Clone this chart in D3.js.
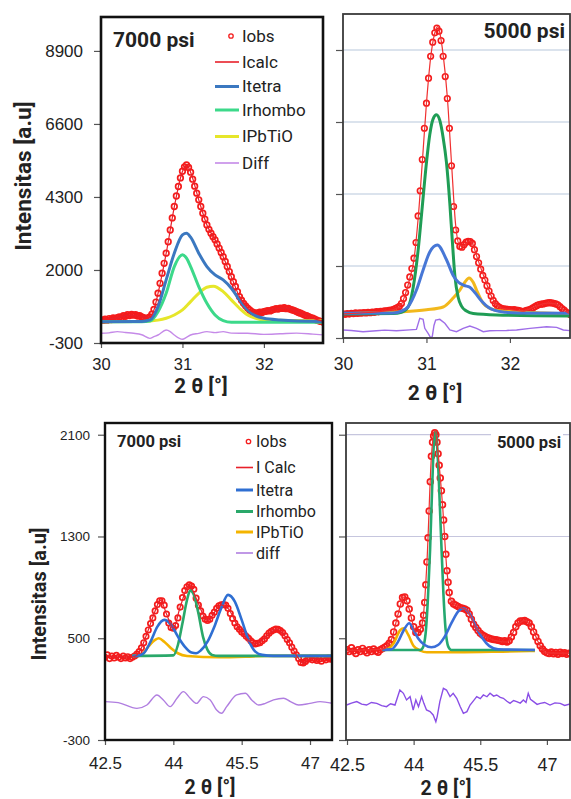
<!DOCTYPE html>
<html>
<head>
<meta charset="utf-8">
<script src="https://cdn.jsdelivr.net/npm/d3@7"></script>
<style>
  body { margin: 0; background: #fff; }
  svg { display: block; font-family: Roboto, "Open Sans", sans-serif; }
</style>
</head>
<body>
<svg id="chart"></svg>
<script>
// scan angles (2 theta)
const twoThetaTop = [
  30,30.025,30.05,30.075,30.1,30.125,30.15,30.175,30.2,30.225,
  30.25,30.275,30.3,30.325,30.35,30.375,30.4,30.425,30.45,30.475,
  30.5,30.525,30.55,30.575,30.6,30.625,30.65,30.675,30.7,30.725,
  30.75,30.775,30.8,30.825,30.85,30.875,30.9,30.925,30.95,30.975,
  31,31.025,31.05,31.075,31.1,31.125,31.15,31.175,31.2,31.225,
  31.25,31.275,31.3,31.325,31.35,31.375,31.4,31.425,31.45,31.475,
  31.5,31.525,31.55,31.575,31.6,31.625,31.65,31.675,31.7,31.725,
  31.75,31.775,31.8,31.825,31.85,31.875,31.9,31.925,31.95,31.975,
  32,32.025,32.05,32.075,32.1,32.125,32.15,32.175,32.2,32.225,
  32.25,32.275,32.3,32.325,32.35,32.375,32.4,32.425,32.45,32.475,
  32.5,32.525,32.55,32.575,32.6,32.625,32.65,32.675,32.7,32.725,
  32.75]
const twoThetaBottom = [
  42.5,42.55,42.6,42.65,42.7,42.75,42.8,42.85,42.9,42.95,
  43,43.05,43.1,43.15,43.2,43.25,43.3,43.35,43.4,43.45,
  43.5,43.55,43.6,43.65,43.7,43.75,43.8,43.85,43.9,43.95,
  44,44.05,44.1,44.15,44.2,44.25,44.3,44.35,44.4,44.45,
  44.5,44.55,44.6,44.65,44.7,44.75,44.8,44.85,44.9,44.95,
  45,45.05,45.1,45.15,45.2,45.25,45.3,45.35,45.4,45.45,
  45.5,45.55,45.6,45.65,45.7,45.75,45.8,45.85,45.9,45.95,
  46,46.05,46.1,46.15,46.2,46.25,46.3,46.35,46.4,46.45,
  46.5,46.55,46.6,46.65,46.7,46.75,46.8,46.85,46.9,46.95,
  47,47.05,47.1,47.15,47.2,47.25,47.3,47.35,47.4,47.45,
  47.5]
// finer steps across the sharp 5000 psi peak
const twoThetaBottomFine = [
  42.5,42.55,42.6,42.65,42.7,42.75,42.8,42.85,42.9,42.95,
  43,43.05,43.1,43.15,43.2,43.25,43.3,43.35,43.4,43.45,
  43.5,43.55,43.6,43.65,43.7,43.75,43.8,43.85,43.9,43.95,
  44,44.05,44.1,44.15,
  44.2,44.225,44.25,44.275,44.3,44.325,44.35,44.375,44.4,44.425,
  44.45,44.475,44.5,44.525,44.55,44.575,44.6,44.625,44.65,44.675,
  44.7,44.725,44.75,44.775,44.8,
  44.85,44.9,44.95,
  45,45.05,45.1,45.15,45.2,45.25,45.3,45.35,45.4,45.45,
  45.5,45.55,45.6,45.65,45.7,45.75,45.8,45.85,45.9,45.95,
  46,46.05,46.1,46.15,46.2,46.25,46.3,46.35,46.4,46.45,
  46.5,46.55,46.6,46.65,46.7,46.75,46.8,46.85,46.9,46.95,
  47,47.05,47.1,47.15,47.2,47.25,47.3,47.35,47.4,47.45,
  47.5]

// ---- top left: 7000 psi, 2theta 30-32.75
const tlObs = [
  430,410,455,420,470,440,490,460,500,520,
  495,560,540,590,565,600,575,590,550,560,
  520,500,470,490,520,610,760,990,1270,1580,
  1900,2210,2530,2890,3260,3640,4000,4330,4630,4900,
  5110,5250,5310,5230,5080,4860,4640,4420,4210,4000,
  3790,3600,3420,3280,3160,3050,2950,2820,2690,2550,
  2420,2270,2110,1950,1790,1630,1480,1320,1160,1050,
  950,870,800,740,690,660,640,650,670,660,
  690,700,720,710,740,760,780,770,800,790,
  810,780,790,760,740,720,690,660,640,610,
  580,560,530,500,480,450,420,400,380,360,
  370]
const tlCalc = [[30,440],[30.2,490],[30.35,575],[30.5,530],[30.6,510],[30.65,740],[30.7,1260],[30.8,2520],[30.9,3990],[31,5100],[31.05,5300],[31.1,5080],[31.2,4210],[31.3,3420],[31.4,2950],[31.5,2420],[31.6,1790],[31.7,1160],[31.8,800],[31.9,645],[32,690],[32.2,795],[32.3,790],[32.4,690],[32.5,580],[32.6,480],[32.75,370]]
const tlTetra = [[30,373],[30.5,380],[30.6,426],[30.7,846],[30.8,1687],[30.9,2529],[31,3107],[31.05,3159],[31.1,3033],[31.2,2529],[31.3,2108],[31.4,1845],[31.5,1687],[31.6,1424],[31.7,1057],[31.8,741],[31.9,552],[32,478],[32.2,426],[32.75,373]]
const tlRhombo = [[30,373],[30.5,373],[30.6,394],[30.7,688],[30.8,1267],[30.9,2108],[31,2476],[31.05,2371],[31.1,2108],[31.2,1477],[31.3,951],[31.4,583],[31.5,404],[31.6,352],[32.75,352]]
const tlPbTiO = [[30,373],[30.5,380],[30.7,420],[30.8,478],[30.9,583],[31,741],[31.1,1004],[31.2,1267],[31.3,1456],[31.38,1490],[31.5,1319],[31.6,1057],[31.7,794],[31.8,583],[31.9,478],[32,426],[32.75,404]]
const tlDiff = [[30,5],[30.1,20],[30.2,57],[30.3,30],[30.4,5],[30.5,-40],[30.6,-153],[30.65,-100],[30.7,-48],[30.8,110],[30.85,60],[30.9,-48],[31,-184],[31.05,-120],[31.1,-48],[31.2,5],[31.3,57],[31.4,26],[31.5,57],[31.6,10],[31.8,5],[32,-27],[32.2,-10],[32.4,10],[32.6,-20],[32.75,-48]]

// ---- top right: 5000 psi, 2theta 30-32.75
const trObs = [
  470,455,480,465,490,475,500,485,505,495,
  515,500,520,510,530,520,540,535,555,550,
  570,565,585,590,610,640,670,710,800,960,
  1150,1390,1650,1920,2250,2750,3600,4400,5400,6400,
  7200,8000,8700,9150,9450,9600,9500,9200,8700,8050,
  7350,6400,5200,3900,3150,2800,2620,2600,2680,2760,
  2790,2780,2720,2520,2300,2100,1900,1700,1550,1370,
  1200,1040,900,800,730,680,650,630,620,615,
  610,600,610,590,580,570,545,560,580,600,
  620,660,700,740,770,780,790,810,820,830,
  820,810,790,760,700,640,590,530,480,440,
  430]
const trCalc = [[30,470],[30.3,515],[30.6,605],[30.7,780],[30.75,1120],[30.8,1600],[30.85,2200],[30.9,3500],[30.95,5300],[31,7200],[31.05,8650],[31.1,9450],[31.13,9650],[31.16,9450],[31.2,8750],[31.25,7400],[31.3,5300],[31.35,3300],[31.4,2650],[31.45,2640],[31.51,2800],[31.55,2730],[31.6,2330],[31.7,1580],[31.8,920],[31.9,660],[32,615],[32.15,560],[32.3,700],[32.45,815],[32.55,790],[32.65,590],[32.75,430]]
const trTetra = [[30,488],[30.6,500],[30.7,560],[30.78,700],[30.88,1233],[30.96,1873],[31.04,2450],[31.13,2671],[31.24,2200],[31.32,1700],[31.38,1489],[31.45,1380],[31.52,1320],[31.58,1150],[31.66,880],[31.74,680],[31.82,580],[31.95,520],[32.1,500],[32.75,490]]
const trRhombo = [[30,470],[30.6,480],[30.7,520],[30.78,690],[30.84,1300],[30.9,2500],[30.95,3900],[31,5300],[31.04,6200],[31.08,6700],[31.12,6830],[31.16,6650],[31.2,6100],[31.24,5300],[31.28,4000],[31.31,2800],[31.34,1700],[31.38,1000],[31.42,720],[31.48,560],[31.56,480],[31.84,435],[32.75,403]]
const trPbTiO = [[30,480],[30.65,530],[31,600],[31.2,690],[31.32,978],[31.4,1233],[31.46,1480],[31.51,1620],[31.56,1480],[31.6,1233],[31.68,808],[31.76,649],[31.88,570],[32.04,540],[32.4,500],[32.75,470]]
const trDiff = [[30,-44],[30.1,-60],[30.24,-98],[30.4,-70],[30.5,-50],[30.64,-66],[30.8,-40],[30.88,-23],[30.92,328],[30.96,296],[30.98,9],[31.02,-151],[31.05,-290],[31.07,-250],[31.09,100],[31.11,275],[31.16,296],[31.22,169],[31.28,-44],[31.36,-98],[31.44,9],[31.52,83],[31.6,9],[31.68,-98],[31.76,-70],[31.84,-66],[31.96,-60],[32.08,-44],[32.24,9],[32.44,60],[32.56,40],[32.64,-44],[32.72,-66]]

// ---- bottom left: 7000 psi, 2theta 42.5-47.5
const blObs = [
  350,370,340,360,345,365,350,340,360,345,
  355,340,350,360,375,395,425,465,515,565,
  615,660,715,765,795,795,760,690,620,585,
  578,600,660,745,820,875,905,920,910,885,
  815,760,715,675,650,640,650,680,705,735,
  755,762,765,760,735,695,655,620,590,570,
  550,535,515,500,480,465,455,460,465,480,
  495,520,540,555,565,572,570,560,545,520,
  490,465,430,400,370,340,310,305,318,335,
  342,330,340,325,335,320,340,330,345,335,
  340]
const blCalc = [[42.5,355],[43.1,352],[43.25,390],[43.45,565],[43.6,715],[43.72,800],[43.85,690],[44,580],[44.15,745],[44.35,920],[44.5,815],[44.75,640],[45.05,762],[45.2,735],[45.45,570],[45.8,455],[46.05,520],[46.28,572],[46.5,490],[46.75,340],[46.85,305],[47,342],[47.5,338]]
const blTetra = [[43.1,361],[43.2,361],[43.35,382],[43.5,473],[43.65,591],[43.8,644],[43.95,605],[44.1,513],[44.25,434],[44.4,387],[44.5,382],[44.6,403],[44.75,473],[44.9,591],[45.05,736],[45.2,841],[45.35,788],[45.5,644],[45.65,487],[45.8,395],[45.95,369],[46.2,361],[47.5,361]]
const blRhombo = [[43.1,361],[44,365],[44.1,447],[44.2,618],[44.3,801],[44.37,875],[44.45,841],[44.55,696],[44.65,513],[44.75,408],[44.85,369],[45,361],[47.5,361]]
const blPbTiO = [[43.1,361],[43.3,369],[43.45,434],[43.6,487],[43.68,500],[43.8,473],[43.95,421],[44.1,382],[44.3,361],[45,350],[45.6,355],[46,361],[47.5,361]]
const blDiff = [[42.5,2],[42.79,-6],[43.2,-51],[43.42,-25],[43.64,54],[43.78,15],[43.93,-38],[44.08,28],[44.22,80],[44.37,28],[44.51,-12],[44.66,41],[44.81,15],[44.95,-64],[45.06,-90],[45.17,-38],[45.39,54],[45.58,67],[45.72,15],[45.87,-25],[46.02,-12],[46.2,15],[46.42,28],[46.57,2],[46.75,-25],[47,-12],[47.22,2],[47.5,-12]]

// ---- bottom right: 5000 psi, 2theta 42.5-47.5 (fine steps on the main peak)
const brObs = [
  410,395,425,400,380,410,395,420,400,385,
  410,395,415,400,390,410,420,430,440,460,
  490,550,620,690,770,820,825,795,730,660,
  590,545,545,570,
  620,680,780,920,1100,1290,1500,1730,1930,2040,
  2090,2115,2100,2040,1950,1860,1760,1660,1550,1430,
  1300,1160,1030,940,860,
  790,770,760,
  750,740,735,730,720,690,650,610,585,560,
  540,525,515,505,500,495,490,488,485,480,
  475,480,470,480,510,545,590,620,635,635,
  640,630,620,590,550,510,475,440,415,395,
  385,380,392,378,388,375,390,380,385,375,
  382]
const brCalc = [[42.5,405],[43.3,415],[43.5,490],[43.65,690],[43.78,825],[43.9,730],[44.05,550],[44.15,570],[44.22,680],[44.3,1100],[44.4,1930],[44.48,2140],[44.55,1950],[44.65,1550],[44.75,1030],[44.85,790],[45.1,735],[45.2,720],[45.4,585],[45.7,500],[46.1,470],[46.3,585],[46.5,640],[46.65,590],[46.85,440],[47,385],[47.52,382]]
const brTetra = [[43.3,408],[43.5,413],[43.65,473],[43.78,565],[43.9,618],[44,565],[44.1,500],[44.25,447],[44.4,429],[44.55,447],[44.7,513],[44.85,618],[45,709],[45.12,736],[45.25,696],[45.4,591],[45.55,500],[45.7,440],[45.9,413],[46.73,408]]
const brRhombo = [[43.3,408],[44.15,408],[44.2,421],[44.27,539],[44.32,801],[44.37,1195],[44.42,1719],[44.46,2060],[44.49,2125],[44.52,2060],[44.57,1719],[44.62,1273],[44.67,854],[44.72,565],[44.78,434],[44.85,408],[46.73,408]]
const brPbTiO = [[43.3,408],[43.4,413],[43.55,460],[43.7,565],[43.78,578],[43.88,526],[44,439],[44.15,403],[44.3,390],[45,390],[46,395],[46.73,400]]
const brDiff = [[42.49,-25],[42.6,-10],[42.72,2],[42.83,-18],[42.94,-25],[43.05,-5],[43.17,-12],[43.28,-30],[43.39,-38],[43.48,-15],[43.58,-25],[43.69,93],[43.77,67],[43.84,15],[43.92,41],[43.99,-64],[44.05,15],[44.11,-38],[44.18,41],[44.23,-12],[44.29,-64],[44.37,-77],[44.44,-103],[44.5,-156],[44.53,-116],[44.59,2],[44.67,106],[44.74,93],[44.82,41],[44.89,67],[44.97,28],[45.05,-38],[45.12,-90],[45.2,-77],[45.27,-25],[45.35,10],[45.42,41],[45.5,25],[45.57,54],[45.65,40],[45.72,67],[45.8,45],[45.87,54],[45.95,35],[46.02,28],[46.1,5],[46.17,-12],[46.25,10],[46.32,2],[46.4,-10],[46.47,15],[46.53,-5],[46.58,67],[46.63,20],[46.7,2],[46.78,-20],[46.85,-12],[46.95,-5],[47.07,-25],[47.18,-8],[47.3,-12],[47.4,-28],[47.52,-17]]

// ticks and labels
const yTicksTop = [-300, 2000, 4300, 6600, 8900]
const xTicksTop = [30, 31, 32]
const yTicksBottom = [-300, 500, 1300, 2100]
const xTicksBottom = [42.5, 44, 45.5, 47]
const legendTop = ["Iobs", "Icalc", "Itetra", "Irhombo", "IPbTiO", "Diff"]
const legendBottom = ["Iobs", "I Calc", "Itetra", "Irhombo", "IPbTiO", "diff"]
const pressureLabels = ["7000 psi", "5000 psi"]

const w = 571
const h = 799

const svg = d3.select("#chart")
  .attr("width", w)
  .attr("height", h)

const obsColor = "#f41c1c"

const panels = [
  {
    id: "tl", theta: twoThetaTop, obs: tlObs, calc: tlCalc, tetra: tlTetra, rhombo: tlRhombo, pbtio: tlPbTiO, diff: tlDiff,
    x: d3.scaleLinear().domain([30, 32.75]).range([101, 325]),
    y: d3.scaleLinear().domain([-300, 10000]).range([343, 16]),
    frame: [101, 17, 323, 343], frameColor: "#111", frameWidth: 2.6,
    xTicks: xTicksTop, yTicks: yTicksTop, yLabels: true, grid: [],
    yFont: 17, yPad: 11, xFont: 16.5, xPad: 10,
    colors: ["#e8202a", "#3b78c0", "#3cd98a", "#e6e62a", "#c58ae8"], compWidth: 3, r: 2.8, sw: 1.7,
    label: pressureLabels[0], labelX: 113, labelY: 47, labelSize: 21, labelAnchor: "start",
    title: [201, 393, 20.5], yTitle: [31, 176, 22.5],
    legend: { names: legendTop, x0: 215, x1: 239, tx: 242, ys: [36, 62, 86.5, 110, 136.5, 163], size: 17 },
    diffCurve: d3.curveMonotoneX
  },
  {
    id: "tr", theta: twoThetaTop, obs: trObs, calc: trCalc, tetra: trTetra, rhombo: trRhombo, pbtio: trPbTiO, diff: trDiff,
    x: d3.scaleLinear().domain([30, 32.72]).range([343, 570]),
    y: d3.scaleLinear().domain([-300, 10050]).range([338, 14]),
    frame: [343, 14, 570, 338], frameColor: "#3a3a3a", frameWidth: 1.8,
    xTicks: xTicksTop, yTicks: yTicksTop, yLabels: false, grid: [2000, 4300, 6600, 8900], gridColor: "#b7c7db",
    xFont: 17.5, xPad: 15,
    colors: ["#f03030", "#4777d6", "#1f9d55", "#f2b81c", "#9f6ee8"], compWidth: 3, r: 2.8, sw: 1.6,
    label: pressureLabels[1], labelX: 565, labelY: 38, labelSize: 21, labelAnchor: "end",
    title: [435, 400, 21],
    diffCurve: d3.curveLinear
  },
  {
    id: "bl", theta: twoThetaBottom, obs: blObs, calc: blCalc, tetra: blTetra, rhombo: blRhombo, pbtio: blPbTiO, diff: blDiff,
    x: d3.scaleLinear().domain([42.5, 47.5]).range([105, 332.8]),
    y: d3.scaleLinear().domain([-300, 2200]).range([740, 422]),
    frame: [105, 423, 332, 740], frameColor: "#111", frameWidth: 2.4,
    xTicks: xTicksBottom, yTicks: yTicksBottom, yLabels: true, grid: [],
    yFont: 13.5, yPad: 8, xFont: 17, xPad: 12,
    colors: ["#e8202a", "#2f6fd2", "#2aa86a", "#f4b400", "#b07ee0"], compWidth: 2.6, r: 2.7, sw: 1.7,
    label: pressureLabels[0], labelX: 117, labelY: 447, labelSize: 16.5, labelAnchor: "start",
    title: [210, 794, 19.5], yTitle: [46, 594, 20],
    legend: { names: legendBottom, x0: 236, x1: 253, tx: 256, ys: [441.5, 467.5, 490, 511.5, 532, 553], size: 16 },
    diffCurve: d3.curveMonotoneX
  },
  {
    id: "br", theta: twoThetaBottomFine, obs: brObs, calc: brCalc, tetra: brTetra, rhombo: brRhombo, pbtio: brPbTiO, diff: brDiff,
    x: d3.scaleLinear().domain([42.5, 47.52]).range([347, 570]),
    y: d3.scaleLinear().domain([-300, 2200]).range([740, 422]),
    frame: [346, 423, 570, 740], frameColor: "#3a3a3a", frameWidth: 1.8,
    xTicks: xTicksBottom, yTicks: yTicksBottom, yLabels: false, grid: [1300, 2100], gridColor: "#c6c6de",
    xFont: 18, xPad: 13,
    colors: ["#f03030", "#3a6ed8", "#25a870", "#f3b000", "#8a4ee6"], compWidth: 2.6, r: 2.9, sw: 1.7,
    label: pressureLabels[1], labelX: 561, labelY: 448, labelSize: 16.5, labelAnchor: "end", labelBox: true,
    title: [446, 795, 19.5],
    diffCurve: d3.curveLinear
  }
]

panels.forEach(drawPanel)

function drawPanel(p) {
  const [fx0, fy0, fx1, fy1] = p.frame
  const g = svg.append("g").attr("id", p.id)

  //clip for the plotting area
  g.append("clipPath")
    .attr("id", "clip-" + p.id)
    .append("rect")
    .attr("x", fx0).attr("y", fy0)
    .attr("width", fx1 - fx0).attr("height", fy1 - fy0)

  //gridlines
  g.selectAll(".grid")
    .data(p.grid)
    .enter()
    .append("line")
    .attr("x1", fx0).attr("x2", fx1)
    .attr("y1", d => p.y(d)).attr("y2", d => p.y(d))
    .attr("stroke", p.gridColor)
    .attr("stroke-width", 1.2)

  //axes
  const yAxis = d3.axisLeft(p.y)
    .tickValues(p.yTicks)
    .tickSize(7)
    .tickPadding(p.yLabels ? p.yPad : 3)
    .tickFormat(d => p.yLabels ? d : "")
  const ya = g.append("g")
    .attr("transform", `translate(${fx0}, 0)`)
    .call(yAxis)
  ya.select(".domain").remove()
  ya.selectAll("line").attr("stroke", "#555").attr("stroke-width", 1.2)
  ya.selectAll("text").attr("fill", "#222").style("font-size", (p.yFont || 12) + "px")

  const xAxis = d3.axisBottom(p.x)
    .tickValues(p.xTicks)
    .tickSize(5)
    .tickPadding(p.xPad)
    .tickFormat(d => d)
  const xa = g.append("g")
    .attr("transform", `translate(0, ${fy1})`)
    .call(xAxis)
  xa.select(".domain").remove()
  xa.selectAll("line").attr("stroke", "#555").attr("stroke-width", 1.2)
  xa.selectAll("text").attr("fill", "#222").style("font-size", p.xFont + "px")

  //curves
  const plot = g.append("g").attr("clip-path", `url(#clip-${p.id})`)
  const line = d3.line()
    .x(d => p.x(d[0]))
    .y(d => p.y(d[1]))

  plot.append("path")
    .attr("d", line.curve(p.diffCurve)(p.diff))
    .attr("fill", "none")
    .attr("stroke", p.colors[4])
    .attr("stroke-width", 1.4)

  line.curve(d3.curveMonotoneX)

  //observed points
  plot.selectAll("circle")
    .data(p.obs)
    .enter()
    .append("circle")
    .attr("cx", (d, i) => p.x(p.theta[i]))
    .attr("cy", d => p.y(d))
    .attr("r", p.r)
    .attr("fill", "none")
    .attr("stroke", obsColor)
    .attr("stroke-width", p.sw)

  const comps = [[p.pbtio, p.colors[3]], [p.rhombo, p.colors[2]], [p.tetra, p.colors[1]]]
  comps.forEach(([data, color]) => {
    plot.append("path")
      .attr("d", line(data))
      .attr("fill", "none")
      .attr("stroke", color)
      .attr("stroke-width", p.compWidth)
      .attr("stroke-linejoin", "round")
  })

  plot.append("path")
    .attr("d", line(p.calc))
    .attr("fill", "none")
    .attr("stroke", p.colors[0])
    .attr("stroke-width", 1.2)

  //frame
  g.append("rect")
    .attr("x", fx0).attr("y", fy0)
    .attr("width", fx1 - fx0).attr("height", fy1 - fy0)
    .attr("fill", "none")
    .attr("stroke", p.frameColor)
    .attr("stroke-width", p.frameWidth)

  //pressure label
  if (p.labelBox) {
    g.append("rect")
      .attr("x", p.labelX - 70).attr("y", p.labelY - 17)
      .attr("width", 72).attr("height", 22)
      .attr("fill", "#fff")
  }
  g.append("text")
    .attr("x", p.labelX)
    .attr("y", p.labelY)
    .attr("text-anchor", p.labelAnchor)
    .attr("font-weight", "bold")
    .attr("fill", "#222")
    .style("font-size", p.labelSize + "px")
    .text(p.label)

  //axis titles
  g.append("text")
    .attr("x", p.title[0])
    .attr("y", p.title[1])
    .attr("text-anchor", "middle")
    .attr("font-weight", "bold")
    .attr("fill", "#222")
    .style("font-size", p.title[2] + "px")
    .text("2 θ [°]")

  if (p.yTitle) {
    g.append("text")
      .attr("transform", `translate(${p.yTitle[0]}, ${p.yTitle[1]}) rotate(-90)`)
      .attr("text-anchor", "middle")
      .attr("font-weight", "bold")
      .attr("fill", "#222")
      .style("font-size", p.yTitle[2] + "px")
      .text("Intensitas [a.u]")
  }

  //legend
  if (p.legend) {
    const lg = p.legend
    const items = g.append("g").attr("class", "legend")
    lg.names.forEach((name, i) => {
      const yy = lg.ys[i]
      if (i === 0) {
        items.append("circle")
          .attr("cx", (lg.x0 + lg.x1) / 2 + 4)
          .attr("cy", yy)
          .attr("r", 2.2)
          .attr("fill", "none")
          .attr("stroke", obsColor)
          .attr("stroke-width", 1.3)
      } else {
        items.append("line")
          .attr("x1", lg.x0).attr("x2", lg.x1)
          .attr("y1", yy).attr("y2", yy)
          .attr("stroke", p.colors[i - 1])
          .attr("stroke-width", i === 1 || i === 5 ? 1.6 : 3)
      }
      items.append("text")
        .attr("x", lg.tx)
        .attr("y", yy)
        .attr("dy", "0.35em")
        .attr("fill", "#222")
        .style("font-size", lg.size + "px")
        .text(name)
    })
  }
}
</script>
</body>
</html>
